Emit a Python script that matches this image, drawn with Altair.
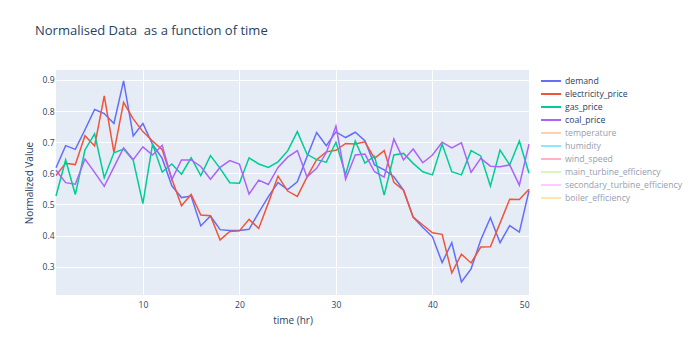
import altair as alt
import pandas as pd

time_hr = list(range(1, 51))

demand = [0.618, 0.689, 0.677, 0.74, 0.805, 0.792, 0.76, 0.897, 0.72, 0.76,
          0.693, 0.648, 0.56, 0.522, 0.527, 0.431, 0.463, 0.419, 0.416, 0.416,
          0.42, 0.474, 0.525, 0.57, 0.548, 0.573, 0.653, 0.731, 0.689, 0.733,
          0.715, 0.732, 0.705, 0.627, 0.611, 0.589, 0.546, 0.459, 0.426, 0.396,
          0.313, 0.377, 0.251, 0.293, 0.386, 0.457, 0.377, 0.432, 0.411, 0.544]

electricity_price = [0.593, 0.632, 0.628, 0.721, 0.688, 0.849, 0.667, 0.828, 0.775, 0.734,
                     0.704, 0.676, 0.582, 0.496, 0.532, 0.466, 0.464, 0.386, 0.413, 0.415,
                     0.452, 0.423, 0.505, 0.591, 0.543, 0.526, 0.588, 0.644, 0.669, 0.674,
                     0.696, 0.694, 0.701, 0.648, 0.673, 0.571, 0.546, 0.459, 0.434, 0.409,
                     0.404, 0.28, 0.34, 0.312, 0.363, 0.364, 0.44, 0.517, 0.516, 0.549]

gas_price = [0.527, 0.643, 0.532, 0.675, 0.727, 0.586, 0.666, 0.678, 0.642, 0.503,
             0.694, 0.604, 0.63, 0.597, 0.65, 0.593, 0.657, 0.616, 0.57, 0.568,
             0.65, 0.63, 0.619, 0.637, 0.672, 0.734, 0.661, 0.644, 0.636, 0.70,
             0.596, 0.704, 0.633, 0.655, 0.53, 0.659, 0.664, 0.632, 0.605, 0.595,
             0.694, 0.605, 0.595, 0.673, 0.656, 0.559, 0.675, 0.627, 0.704, 0.60]

coal_price = [0.61, 0.57, 0.565, 0.646, 0.603, 0.558, 0.62, 0.682, 0.644, 0.685,
              0.659, 0.69, 0.58, 0.643, 0.643, 0.622, 0.581, 0.619, 0.641, 0.63,
              0.533, 0.578, 0.564, 0.619, 0.652, 0.673, 0.588, 0.616, 0.666, 0.752,
              0.581, 0.659, 0.662, 0.605, 0.588, 0.71, 0.643, 0.678, 0.634, 0.659,
              0.70, 0.682, 0.698, 0.603, 0.648, 0.623, 0.621, 0.627, 0.562, 0.694]

series_names = ["demand", "electricity_price", "gas_price", "coal_price",
                "temperature", "humidity", "wind_speed", "main_turbine_efficiency",
                "secondary_turbine_efficiency", "boiler_efficiency"]
hidden_names = series_names[4:]
series_colors = ["#636efa", "#EF553B", "#00cc96", "#ab63fa",
                 "#FFD0AC", "#8CE9F9", "#FFB2C8", "#DAF3BF", "#FFCBFF", "#FEE5A8"]

visible = {"demand": demand, "electricity_price": electricity_price,
           "gas_price": gas_price, "coal_price": coal_price}

rows = []
for name, vals in visible.items():
    for t, v in zip(time_hr, vals):
        rows.append({"time": t, "value": v, "variable": name})
df = pd.DataFrame(rows)

FONT = "Open Sans"
TXT = "#2a3f5f"

hidden_list = ",".join("'%s'" % n for n in hidden_names)
label_color_expr = "indexof([%s], datum.label) >= 0 ? '#95a0af' : '%s'" % (hidden_list, TXT)

color = alt.Color(
    "variable:N",
    scale=alt.Scale(domain=series_names, range=series_colors),
    legend=alt.Legend(
        title=None, orient="none", legendX=489, legendY=5,
        symbolType="M-2,0L2,0", symbolSize=100, symbolStrokeWidth=2,
        labelFont=FONT, labelFontSize=8.7, labelColor={"expr": label_color_expr},
        labelOffset=8, rowPadding=2, padding=0, labelLimit=300,
    ),
)

axis_style = dict(grid=True, gridColor="white", gridWidth=1, domain=False, ticks=False,
                  labelFont=FONT, labelFontSize=8.5, labelColor=TXT,
                  titleFont=FONT, titleFontSize=10, titleColor=TXT,
                  titleFontWeight="normal")

x = alt.X("time:Q", title="time (hr)",
          scale=alt.Scale(domain=[1, 50], nice=False, zero=False),
          axis=alt.Axis(values=[10, 20, 30, 40, 50], labelPadding=5, titlePadding=7,
                        **axis_style))
y = alt.Y("value:Q", title="Normalized Value",
          scale=alt.Scale(domain=[0.209, 0.932], nice=False, zero=False),
          axis=alt.Axis(values=[0.3, 0.4, 0.5, 0.6, 0.7, 0.8, 0.9], format=".1f",
                        labelPadding=2, titlePadding=8, **axis_style))

layers = []
for name in visible:
    layers.append(
        alt.Chart(df).transform_filter(alt.datum.variable == name)
        .mark_line(strokeWidth=1.5)
        .encode(x=x, y=y, color=color)
    )

chart = alt.layer(*layers).properties(
    width=473, height=225,
    background="white",
    title=alt.TitleParams("Normalised Data \u00a0as a function of time", anchor="start",
                          frame="group", dx=-21, offset=22, baseline="alphabetic",
                          font=FONT, fontSize=13, fontWeight="normal", color=TXT),
    padding={"left": 56, "top": 70, "right": 171, "bottom": 55},
    autosize=alt.AutoSizeParams(type="none"),
).configure_view(fill="#E5ECF6", stroke=None)

chart.save("out.html", embed_options={"renderer": "svg", "actions": False})
